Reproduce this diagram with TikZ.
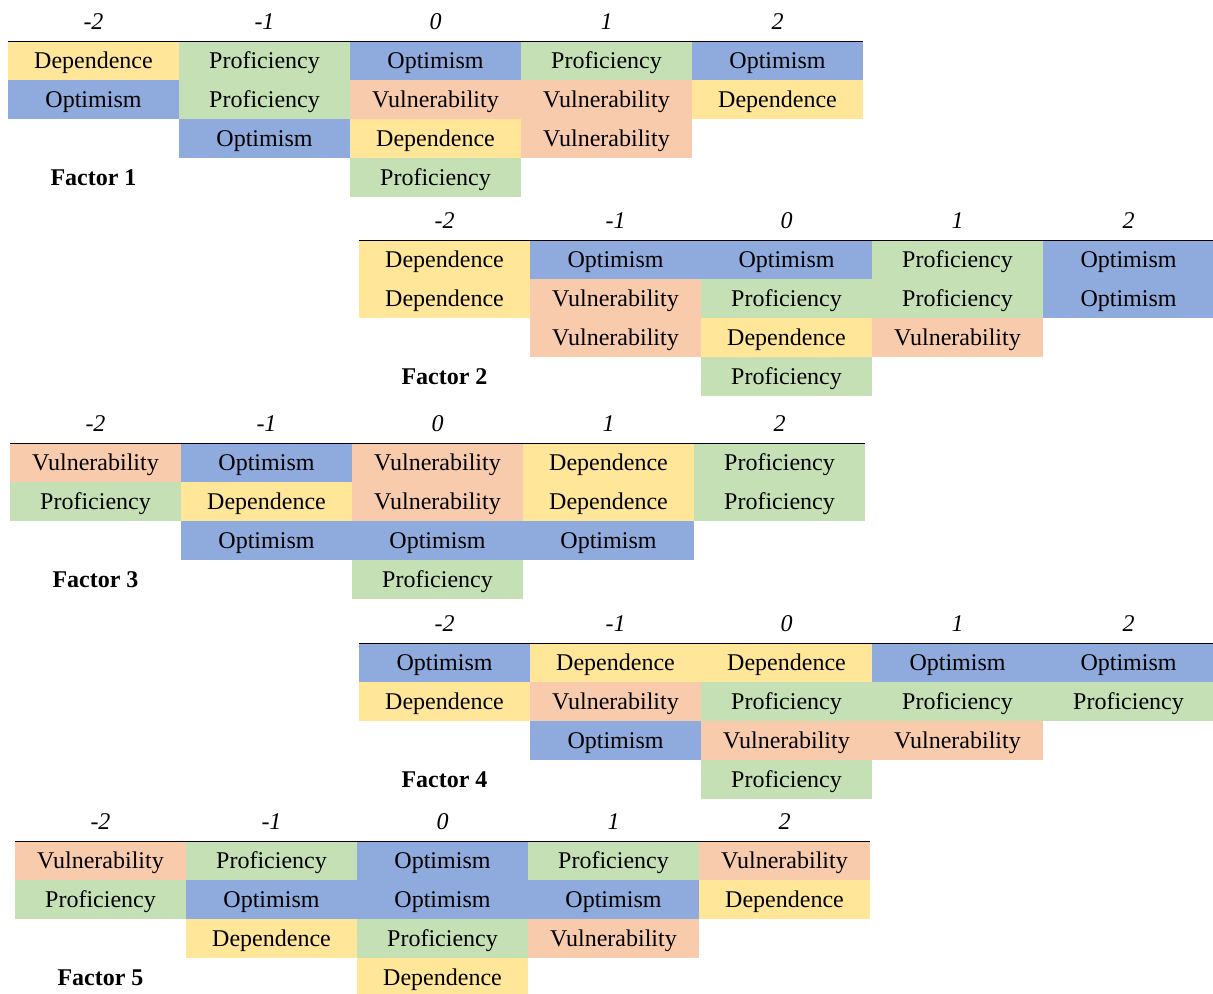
\documentclass[tikz,border=0pt]{standalone}
\usepackage{fontspec}
\setmainfont{Liberation Serif}
\usepackage{tikz}
\usetikzlibrary{matrix}

\definecolor{depyellow}{HTML}{FFE699}
\definecolor{progreen}{HTML}{C5E0B4}
\definecolor{optblue}{HTML}{8FAADC}
\definecolor{vulorange}{HTML}{F8CBAD}

\begin{document}
\begin{tikzpicture}[x=0.5pt,y=-0.5pt,
  factor/.style={matrix of nodes,anchor=north west,inner sep=0pt,outer sep=0pt,
    row sep=0pt,column sep=0pt,
    nodes={minimum width=85.5pt,minimum height=19.5pt,inner sep=0pt,outer sep=0pt,
      text height=9pt,text depth=1.1pt,font=\fontsize{12}{14}\selectfont},
    row 1/.style={nodes={font=\fontsize{12}{14}\selectfont\itshape}}},
  cell/.style={minimum width=85.1pt,minimum height=19.1pt,line width=0.4pt},
  depcell/.style={cell,fill=depyellow,draw=depyellow},
  procell/.style={cell,fill=progreen,draw=progreen},
  optcell/.style={cell,fill=optblue,draw=optblue},
  vulcell/.style={cell,fill=vulorange,draw=vulorange},
  factorlabel/.style={font=\fontsize{12}{14}\selectfont\bfseries},
  rule/.style={line width=0.75pt}]
  \useasboundingbox (0,0) rectangle (1213,993);

  \matrix (f1) [factor] at (8,2) {
    -2 & -1 & 0 & 1 & 2 \\
    |[depcell]| Dependence & |[procell]| Proficiency & |[optcell]| Optimism & |[procell]| Proficiency & |[optcell]| Optimism \\
    |[optcell]| Optimism & |[procell]| Proficiency & |[vulcell]| Vulnerability & |[vulcell]| Vulnerability & |[depcell]| Dependence \\
    & |[optcell]| Optimism & |[depcell]| Dependence & |[vulcell]| Vulnerability & \\
    |[factorlabel]| Factor 1 & & |[procell]| Proficiency & & \\
  };
  \matrix (f2) [factor] at (359,201) {
    -2 & -1 & 0 & 1 & 2 \\
    |[depcell]| Dependence & |[optcell]| Optimism & |[optcell]| Optimism & |[procell]| Proficiency & |[optcell]| Optimism \\
    |[depcell]| Dependence & |[vulcell]| Vulnerability & |[procell]| Proficiency & |[procell]| Proficiency & |[optcell]| Optimism \\
    & |[vulcell]| Vulnerability & |[depcell]| Dependence & |[vulcell]| Vulnerability & \\
    |[factorlabel]| Factor 2 & & |[procell]| Proficiency & & \\
  };
  \matrix (f3) [factor] at (10,404) {
    -2 & -1 & 0 & 1 & 2 \\
    |[vulcell]| Vulnerability & |[optcell]| Optimism & |[vulcell]| Vulnerability & |[depcell]| Dependence & |[procell]| Proficiency \\
    |[procell]| Proficiency & |[depcell]| Dependence & |[vulcell]| Vulnerability & |[depcell]| Dependence & |[procell]| Proficiency \\
    & |[optcell]| Optimism & |[optcell]| Optimism & |[optcell]| Optimism & \\
    |[factorlabel]| Factor 3 & & |[procell]| Proficiency & & \\
  };
  \matrix (f4) [factor] at (359,604) {
    -2 & -1 & 0 & 1 & 2 \\
    |[optcell]| Optimism & |[depcell]| Dependence & |[depcell]| Dependence & |[optcell]| Optimism & |[optcell]| Optimism \\
    |[depcell]| Dependence & |[vulcell]| Vulnerability & |[procell]| Proficiency & |[procell]| Proficiency & |[procell]| Proficiency \\
    & |[optcell]| Optimism & |[vulcell]| Vulnerability & |[vulcell]| Vulnerability & \\
    |[factorlabel]| Factor 4 & & |[procell]| Proficiency & & \\
  };
  \matrix (f5) [factor] at (15,802) {
    -2 & -1 & 0 & 1 & 2 \\
    |[vulcell]| Vulnerability & |[procell]| Proficiency & |[optcell]| Optimism & |[procell]| Proficiency & |[vulcell]| Vulnerability \\
    |[procell]| Proficiency & |[optcell]| Optimism & |[optcell]| Optimism & |[optcell]| Optimism & |[depcell]| Dependence \\
    & |[depcell]| Dependence & |[procell]| Proficiency & |[vulcell]| Vulnerability & \\
    |[factorlabel]| Factor 5 & & |[depcell]| Dependence & & \\
  };

  \draw[rule] (f1-2-1.north west) -- (f1-2-5.north east);
  \draw[rule] (f2-2-1.north west) -- (f2-2-5.north east);
  \draw[rule] (f3-2-1.north west) -- (f3-2-5.north east);
  \draw[rule] (f4-2-1.north west) -- (f4-2-5.north east);
  \draw[rule] (f5-2-1.north west) -- (f5-2-5.north east);
\end{tikzpicture}
\end{document}
